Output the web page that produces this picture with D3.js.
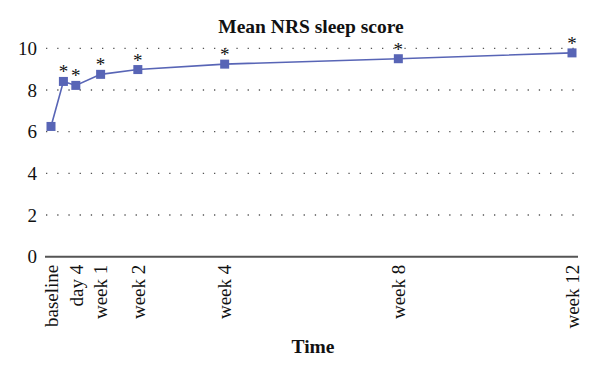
<!DOCTYPE html>
<html><head><meta charset="utf-8">
<script src="https://cdn.jsdelivr.net/npm/d3@7"></script>
<style>body{margin:0;background:#fff}svg{display:block}svg text{font-family:"Liberation Serif","DejaVu Serif",serif !important}</style>
</head><body><svg id="c" width="600" height="375"></svg>
<script>
const days = [0, 2, 4, 8, 14, 28, 56, 84];
const scores = [6.25, 8.41, 8.22, 8.75, 8.98, 9.24, 9.5, 9.78];
const significant = [false, true, true, true, true, true, true, true];
const tickDays = [0, 4, 8, 14, 28, 56, 84];
const tickLabels = ["baseline", "day 4", "week 1", "week 2", "week 4", "week 8", "week 12"];
const yTicks = [0, 2, 4, 6, 8, 10];

const svg = d3.select("#c");
const x = d3.scaleLinear().domain([0, 84]).range([51, 572]);
const y = d3.scaleLinear().domain([0, 10]).range([256.7, 48.3]);
const col = "#5865b6";

// gridlines
svg.append("g").selectAll("line").data(yTicks.filter(d => d > 0)).join("line")
  .attr("x1", 46).attr("x2", 575).attr("y1", d => y(d)).attr("y2", d => y(d))
  .attr("stroke", "#555").attr("stroke-width", 1.3).attr("stroke-dasharray", "1.3,9.9");

// y axis labels
const ya = svg.append("g").attr("transform", "translate(46,0)")
  .call(d3.axisLeft(y).tickValues(yTicks).tickSize(0).tickPadding(9));
ya.select(".domain").remove();
ya.selectAll("text").attr("font-size", 19).attr("fill", "#111");

// x axis
const xa = svg.append("g").attr("transform", `translate(0,${y(0)})`)
  .call(d3.axisBottom(x).tickValues(tickDays).tickFormat((d, i) => tickLabels[i]).tickSize(0).tickPadding(0));
xa.select(".domain").attr("d", `M45,0H578`).attr("stroke", "#555").attr("stroke-width", 2);
xa.selectAll("text").attr("font-size", 19).attr("fill", "#111")
  .attr("transform", "rotate(-90)").attr("text-anchor", "end")
  .attr("x", -8).attr("y", 0).attr("dy", "0.33em");

// line
svg.append("path").datum(days.map((d, i) => [d, scores[i]]))
  .attr("fill", "none").attr("stroke", col).attr("stroke-width", 1.6)
  .attr("d", d3.line().x(d => x(d[0])).y(d => y(d[1])));

// markers
svg.append("g").selectAll("rect").data(days).join("rect")
  .attr("x", (d) => x(d) - 4.5).attr("y", (d, i) => y(scores[i]) - 4.5)
  .attr("width", 9).attr("height", 9).attr("fill", col);

// stars
svg.append("g").selectAll("text").data(days.filter((d, i) => significant[i])).join("text")
  .attr("x", d => x(d)).attr("y", d => y(scores[days.indexOf(d)]) - 3)
  .attr("text-anchor", "middle").attr("font-size", 19).attr("fill", "#111").text("*");

// title
svg.append("text").attr("x", 311).attr("y", 33).attr("text-anchor", "middle")
  .attr("font-size", 19.5).attr("font-weight", "bold").attr("fill", "#111").text("Mean NRS sleep score");
svg.append("text").attr("x", 313).attr("y", 353).attr("text-anchor", "middle")
  .attr("font-size", 19.5).attr("font-weight", "bold").attr("fill", "#111").text("Time");
</script></body></html>
